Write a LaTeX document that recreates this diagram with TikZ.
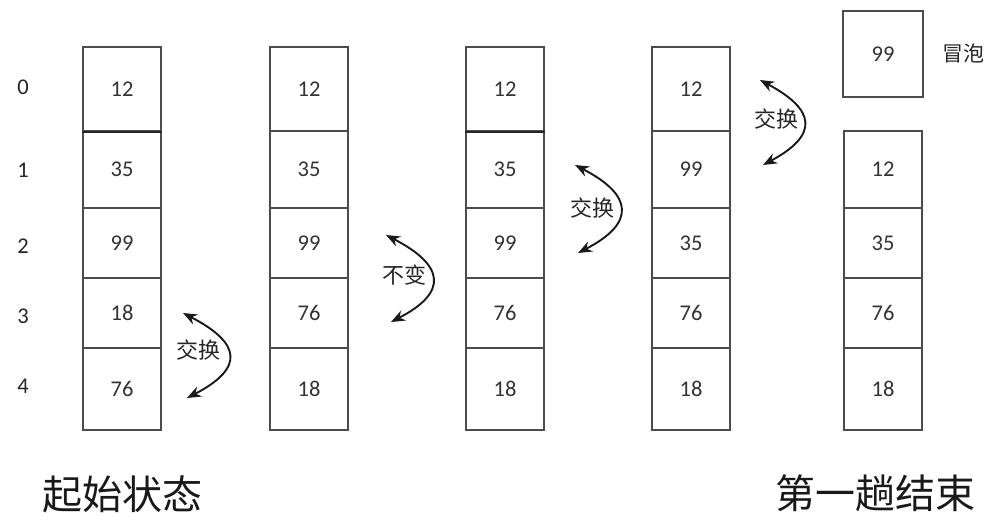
\documentclass[tikz,border=0pt]{standalone}
\usepackage{fontspec}
\setmainfont{Carlito}
\newfontfamily\cjk{Noto Sans CJK SC}
\usetikzlibrary{arrows.meta}

\begin{document}
\begin{tikzpicture}[
    x=1pt, y=-1pt,
    >={Stealth[length=14pt,width=11pt]},
    cell/.style={rectangle, draw=black!70, line width=1.4pt, minimum width=78pt, inner sep=0pt, text=black!80, font=\fontsize{22.5}{26}\selectfont},
    idx/.style={text=black!85, font=\fontsize{22.5}{26}\selectfont},
    swap/.style={<->, line width=1.9pt, black!90},
    sep/.style={line width=2.2pt, black!85},
    note/.style={inner sep=0pt, text=black!85, font=\cjk\fontsize{22}{26}\selectfont},
    title/.style={inner sep=0pt, text=black!90, font=\cjk\fontsize{40}{48}\selectfont}
]
\useasboundingbox[fill=white] (0,0) rectangle (987,520);

% row numbers
\foreach \r/\y in {0/87, 1/170, 2/246, 3/316, 4/386}
    \node[idx] (i\r) at (23,\y) {\r};

% the four arrays before the pass ends
\foreach \col/\cx/\vals in {a/122/{12,35,99,18,76}, b/309/{12,35,99,76,18}, c/505/{12,35,99,76,18}, d/691/{12,99,35,76,18}}
    \foreach \v [count=\r from 0] in \vals {
        \pgfmathsetmacro\cy{{89,169.5,243,313,389}[\r]}
        \pgfmathsetmacro\ch{{84,77,70,70,82}[\r]}
        \node[cell, minimum height=\ch pt] (\col\r) at (\cx,\cy) {\v};
    }
\draw[sep] (a0.south west) -- (a0.south east);
\draw[sep] (c0.south west) -- (c0.south east);

% after the first pass
\foreach \v [count=\r from 1] in {12,35,76,18} {
    \pgfmathsetmacro\cy{{89,169.5,243,313,389}[\r]}
    \pgfmathsetmacro\ch{{84,77,70,70,82}[\r]}
    \node[cell, minimum height=\ch pt] (e\r) at (883,\cy) {\v};
}
\node[cell, minimum width=80pt, minimum height=86pt] (top) at (883,54) {99};
\node[note, font=\cjk\fontsize{21}{25}\selectfont] (bubble) at (963,53) {冒泡};

% swaps
\coordinate (s1) at (183,313); \coordinate (t1) at (187,398);
\coordinate (s2) at (386,235); \coordinate (t2) at (391,322);
\coordinate (s3) at (575,165); \coordinate (t3) at (578,253);
\coordinate (s4) at (760,80);  \coordinate (t4) at (763,165);

\draw[swap] (s1) .. controls +(58,30) and +(58,-30) .. node[note, anchor=east, xshift=-7pt, yshift=5pt] {交换} (t1);
\draw[swap] (s2) .. controls +(58,30) and +(58,-30) .. node[note, anchor=east, xshift=-5pt, yshift=3pt] {不变} (t2);
\draw[swap] (s3) .. controls +(58,30) and +(58,-30) .. node[note, anchor=east, xshift=-5pt, yshift=1pt] {交换} (t3);
\draw[swap] (s4) .. controls +(56,30) and +(56,-30) .. node[note, anchor=east, xshift=-4pt, yshift=3pt] {交换} (t4);

% captions
\node[title] (start) at (122,494) {起始状态};
\node[title] (end) at (875,493) {第一趟结束};
\end{tikzpicture}
\end{document}
